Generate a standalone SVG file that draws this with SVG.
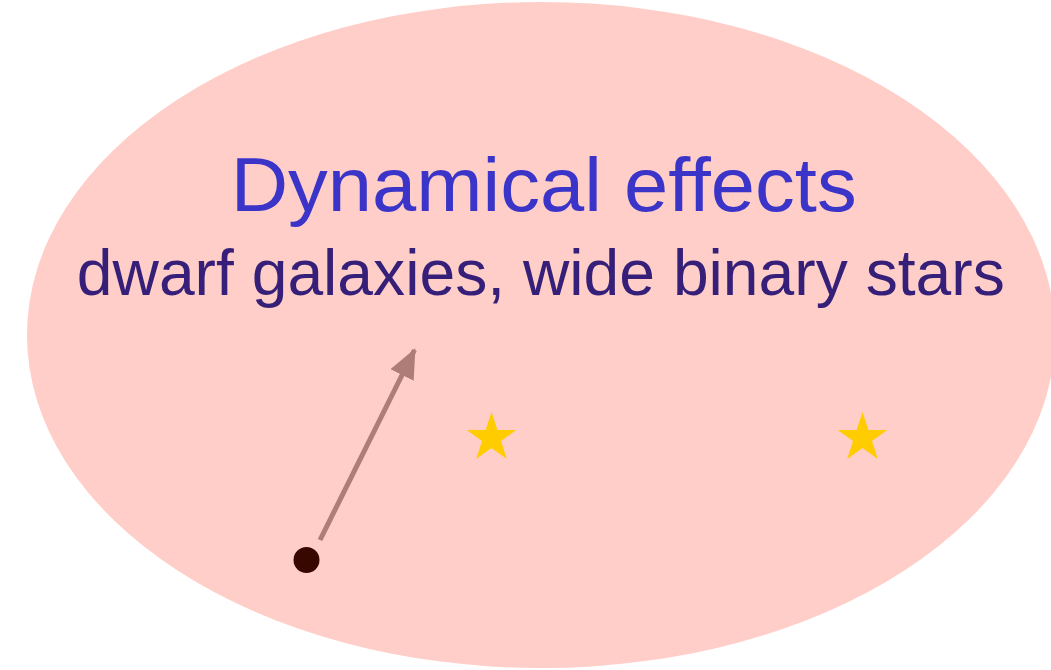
<svg xmlns="http://www.w3.org/2000/svg" width="1051" height="670" viewBox="0 0 1051 670">
<style>
.title{font-family:"Liberation Sans",Arial,sans-serif;font-size:76px;fill:#3B34C9}
.sub{font-family:"Liberation Sans",Arial,sans-serif;font-size:64px;fill:#361F78}
.star{fill:#FFCC00}
</style>
<defs>
<marker id="ah" markerUnits="userSpaceOnUse" markerWidth="30" markerHeight="26" refX="28" refY="13" orient="auto">
<path d="M0,0 L30,13 L0,26 Z" fill="#AE7D77"/>
</marker>
</defs>
<rect width="1051" height="670" fill="#FFFFFF"/>
<g id="region">
<ellipse cx="541" cy="335" rx="514" ry="333" fill="#FFCEC8"/>
</g>
<g id="label">
<text class="title" x="543.7" y="211" text-anchor="middle" textLength="626" lengthAdjust="spacingAndGlyphs">Dynamical effects</text>
<text class="sub" x="540.8" y="295" text-anchor="middle" textLength="928" lengthAdjust="spacingAndGlyphs">dwarf galaxies, wide binary stars</text>
</g>
<g id="stars">
<polygon class="star" transform="translate(491.5,438)" points="0,-26 5.9,-8.1 24.7,-8.1 9.5,3.1 15.3,21 0,10 -15.3,21 -9.5,3.1 -24.7,-8.1 -5.9,-8.1"/>
<polygon class="star" transform="translate(862.5,438)" points="0,-26 5.9,-8.1 24.7,-8.1 9.5,3.1 15.3,21 0,10 -15.3,21 -9.5,3.1 -24.7,-8.1 -5.9,-8.1"/>
</g>
<g id="particle">
<circle cx="306.5" cy="560" r="13" fill="#360800"/>
</g>
<g id="connectors">
<line x1="320" y1="540" x2="414.5" y2="350" stroke="#AE7D77" stroke-width="5" marker-end="url(#ah)"/>
</g>
</svg>
